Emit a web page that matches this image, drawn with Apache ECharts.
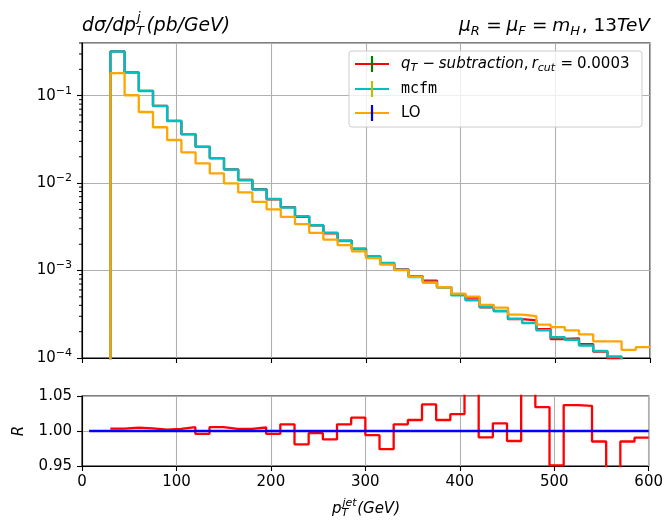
<!DOCTYPE html>
<html>
<head>
<meta charset="utf-8">
<script src="https://cdn.jsdelivr.net/npm/echarts@6/dist/echarts.min.js"></script>
<style>
  html, body { margin: 0; padding: 0; background: #fff; }
  #chart { width: 666px; height: 523px; }
</style>
</head>
<body>
<div id="chart"></div>
<script>
// Jet transverse-momentum spectrum, 15 GeV bins
const binEdges = [30, 45, 60, 75, 90, 105, 120, 135, 150, 165, 180, 195, 210, 225, 240, 255, 270, 285, 300,
  315, 330, 345, 360, 375, 390, 405, 420, 435, 450, 465, 480, 495, 510, 525, 540, 555, 570, 585, 600];

// dσ/dpT (pb/GeV), MCFM reference
const mcfm = [0.319, 0.1835, 0.1132, 0.0762, 0.0513, 0.0361, 0.0261, 0.0192, 0.01435, 0.01082, 0.00847,
  0.00656, 0.00527, 0.00419, 0.0033, 0.0027, 0.00218, 0.00175, 0.00146, 0.00122, 0.00102, 0.000845,
  0.00074, 0.000638, 0.000521, 0.000457, 0.000383, 0.000342, 0.000282, 0.000251, 0.000207, 0.000173,
  0.000162, 0.000139, 0.00012, 0.000104, 0.000092, 0.000085];

// dσ/dpT (pb/GeV), qT-subtraction with r_cut = 0.0003
const qtSub = [0.320, 0.1844, 0.1136, 0.07635, 0.05145, 0.0363, 0.0260, 0.01931, 0.01439, 0.01085, 0.00851,
  0.00653, 0.00532, 0.00411, 0.00329, 0.00267, 0.00220, 0.00178, 0.00145, 0.00119, 0.00103, 0.000858,
  0.000768, 0.000648, 0.000534, 0.000489, 0.000380, 0.000346, 0.000278, 0.000269, 0.000214, 0.000165,
  0.000168, 0.000144, 0.000118, 0.0000967, 0.0000906, 0.0000842];

// dσ/dpT (pb/GeV), leading order
const lo = [0.1806, 0.101, 0.065, 0.0435, 0.0311, 0.0225, 0.01682, 0.0129, 0.00993, 0.00782, 0.00611,
  0.0050, 0.00411, 0.00339, 0.0027, 0.00226, 0.00195, 0.00166, 0.00139, 0.00117, 0.00101, 0.000845,
  0.000724, 0.000644, 0.000546, 0.000504, 0.000406, 0.000377, 0.000313, 0.000301, 0.000241, 0.000226,
  0.000207, 0.000186, 0.000155, 0.000155, 0.000124, 0.000133];

// ratio R = qT-subtraction / MCFM
const ratio = [1.0033, 1.0048, 1.0038, 1.0019, 1.003, 1.0055, 0.996, 1.0055, 1.003, 1.003, 1.005, 0.996,
  1.0095, 0.981, 0.997, 0.988, 1.0095, 1.019, 0.994, 0.974, 1.0095, 1.0157, 1.038, 1.0157, 1.024, 1.07,
  0.991, 1.011, 0.9857, 1.07, 1.034, 0.951, 1.037, 1.036, 0.985, 0.93, 0.985, 0.9905];

// unity reference line in the ratio panel
const unityX = [7.5, 600];
const unityY = [1, 1];

// log-axis minor tick positions
const minorTicks = [];
[1e-4, 1e-3, 1e-2, 1e-1].forEach(d => { for (let k = 2; k <= 9; k++) { if (k * d <= 0.4 + 1e-9) minorTicks.push(k * d); } });

const FONT = 'DejaVu Sans';
const FS = 15;
const chart = echarts.init(document.getElementById('chart'), null, { renderer: 'canvas' });

// histogram outline; optionally rises from the floor at the first edge
function stepHist(vals, fromFloor) {
  const d = [];
  if (fromFloor) d.push([binEdges[0], 1e-7]);
  vals.forEach((v, i) => d.push([binEdges[i], v]));
  d.push([binEdges[vals.length], vals[vals.length - 1]]);
  return d;
}

function expLabel(v) {
  const e = Math.round(Math.log10(v));
  return '{b|10}{s|' + String(e).replace('-', '−') + '}';
}

// --- small mathtext-like layout for titles and labels ---
const mctx = document.createElement('canvas').getContext('2d');
function tw(text, font) { mctx.font = font; return mctx.measureText(text).width; }
function fontStr(size, it, mono) { return (it ? 'italic ' : '') + size + 'px ' + (mono ? '"DejaVu Sans Mono"' : '"DejaVu Sans"'); }
function mathRow(parts, x, cy, size, align) {
  const small = Math.round(size * 0.7);
  const items = [];
  let cx = 0;
  parts.forEach(p => {
    if (p.t !== undefined) {
      const f = fontStr(size, p.it, p.mono);
      items.push({ text: p.t, font: f, x: cx, y: cy });
      cx += tw(p.t, f);
    } else if (p.gap !== undefined) {
      cx += p.gap * size;
    } else {
      const f = fontStr(small, true, false);
      let wmax = 0;
      if (p.sup) { items.push({ text: p.sup, font: f, x: cx + 1, y: cy - size * 0.42 }); wmax = Math.max(wmax, tw(p.sup, f)); }
      if (p.sub) { items.push({ text: p.sub, font: f, x: cx, y: cy + size * 0.3 }); wmax = Math.max(wmax, tw(p.sub, f)); }
      cx += wmax + 1.5;
    }
  });
  const x0 = align === 'right' ? x - cx : (align === 'center' ? x - cx / 2 : x);
  return items.map(it => ({
    type: 'text', x: x0 + it.x, y: it.y, z: 100,
    style: { text: it.text, font: it.font, fill: '#000', verticalAlign: 'middle', align: 'left' }
  }));
}
const EQ = [{ gap: 0.26 }, { t: '=' }, { gap: 0.26 }];

const graphics = [];
// titles
graphics.push(...mathRow([{ t: 'dσ/dp', it: true }, { sup: 'j', sub: 'T' }, { gap: 0.05 }, { t: '(pb/GeV)', it: true }], 82, 26, 18.8, 'left'));
graphics.push(...mathRow([{ t: 'μ', it: true }, { sub: 'R' }, ...EQ, { t: 'μ', it: true }, { sub: 'F' }, ...EQ,
  { t: 'm', it: true }, { sub: 'H' }, { t: ', 13' }, { t: 'TeV', it: true }], 650, 26, 18.5, 'right'));
// axis titles
graphics.push(...mathRow([{ t: 'p', it: true }, { sup: 'jet', sub: 'T' }, { t: '(GeV)', it: true }], 366, 509, FS, 'center'));
graphics.push({ type: 'text', x: 19, y: 431, rotation: Math.PI / 2, z: 100,
  style: { text: 'R', font: fontStr(FS, true), fill: '#000', align: 'center', verticalAlign: 'middle' } });

// legend
const lg = { x: 349, y: 51, w: 293, h: 76 };
graphics.push({ type: 'rect', z: 90, shape: { x: lg.x, y: lg.y, width: lg.w, height: lg.h, r: 3 },
  style: { fill: 'rgba(255,255,255,0.8)', stroke: '#cccccc', lineWidth: 1 } });
const legendRows = [
  { y: 64, line: '#ff0000', bar: '#008000', label: [{ t: 'q', it: true }, { sub: 'T' }, { gap: 0.25 }, { t: '−' }, { gap: 0.25 },
    { t: 'subtraction', it: true }, { t: ',' }, { gap: 0.2 }, { t: 'r', it: true }, { sub: 'cut' }, ...EQ, { t: '0.0003' }] },
  { y: 89, line: '#00bfbf', bar: '#bfbf00', label: [{ t: 'mcfm', mono: true }] },
  { y: 113, line: '#ffa500', bar: '#0000ff', label: [{ t: 'LO' }] }
];
legendRows.forEach(r => {
  graphics.push({ type: 'line', z: 95, shape: { x1: 355, y1: r.y, x2: 389, y2: r.y }, style: { stroke: r.line, lineWidth: 2.2 } });
  graphics.push({ type: 'line', z: 96, shape: { x1: 372, y1: r.y - 8, x2: 372, y2: r.y + 8 }, style: { stroke: r.bar, lineWidth: 2.2 } });
  graphics.push(...mathRow(r.label, 401, r.y, FS, 'left'));
});

const gridColor = '#b0b0b0';
const axisLineStyle = { color: '#000', width: 1.1 };
const labelStyle = { color: '#000', fontFamily: FONT, fontSize: FS };
const LW = 2.3;

const option = {
  animation: false,
  backgroundColor: '#fff',
  grid: [
    { left: 82, right: 16, top: 43, height: 315, show: true, borderColor: '#000', borderWidth: 1.1, backgroundColor: 'transparent' },
    { left: 82, right: 16, top: 396, height: 70, show: true, borderColor: '#000', borderWidth: 1.1, backgroundColor: 'transparent' }
  ],
  xAxis: [
    { type: 'value', gridIndex: 0, min: 0, max: 600, interval: 100,
      axisLine: { lineStyle: axisLineStyle }, axisTick: { length: 5, lineStyle: axisLineStyle },
      axisLabel: { show: false }, splitLine: { show: true, lineStyle: { color: gridColor, width: 1.1 } } },
    { type: 'value', gridIndex: 1, min: 0, max: 600, interval: 100,
      axisLine: { lineStyle: axisLineStyle }, axisTick: { length: 5, lineStyle: axisLineStyle },
      axisLabel: Object.assign({ margin: 9 }, labelStyle), splitLine: { show: true, lineStyle: { color: gridColor, width: 1.1 } } }
  ],
  yAxis: [
    { type: 'log', logBase: 10, gridIndex: 0, min: 1e-4, max: 0.4,
      axisLine: { show: true, lineStyle: axisLineStyle }, axisTick: { show: true, length: 5, lineStyle: axisLineStyle },
      splitLine: { show: true, lineStyle: { color: gridColor, width: 1.1 } },
      axisLabel: { margin: 10, showMaxLabel: false, formatter: expLabel,
        rich: { b: { fontFamily: FONT, fontSize: FS, color: '#000' },
                s: { fontFamily: FONT, fontSize: 11, color: '#000', padding: [0, 0, 10, 0] } } } },
    { type: 'value', gridIndex: 1, min: 0.95, max: 1.05, interval: 0.05,
      axisLine: { show: true, lineStyle: axisLineStyle }, axisTick: { show: true, length: 5, lineStyle: axisLineStyle },
      splitLine: { show: true, lineStyle: { color: gridColor, width: 1.1 } },
      axisLabel: Object.assign({ margin: 10, formatter: v => v.toFixed(2) }, labelStyle) }
  ],
  series: [
    { name: 'qT', type: 'line', xAxisIndex: 0, yAxisIndex: 0, step: 'end', showSymbol: false, clip: true, z: 3,
      data: stepHist(qtSub, true), lineStyle: { color: '#ff0000', width: LW } },
    { name: 'mcfm', type: 'line', xAxisIndex: 0, yAxisIndex: 0, step: 'end', showSymbol: false, clip: true, z: 4,
      data: stepHist(mcfm, true), lineStyle: { color: '#00bfbf', width: 2.5 } },
    { name: 'LO', type: 'line', xAxisIndex: 0, yAxisIndex: 0, step: 'end', showSymbol: false, clip: true, z: 5,
      data: stepHist(lo, true), lineStyle: { color: '#ffa500', width: LW } },
    { type: 'custom', xAxisIndex: 0, yAxisIndex: 0, clip: false, silent: true, z: 6,
      data: minorTicks.map(v => [0, v]),
      renderItem: (params, api) => {
        const p = api.coord([0, api.value(1)]);
        return { type: 'line', shape: { x1: p[0] - 3, y1: p[1], x2: p[0], y2: p[1] }, style: { stroke: '#000', lineWidth: 1 } };
      } },
    { name: 'R', type: 'line', xAxisIndex: 1, yAxisIndex: 1, step: 'end', showSymbol: false, clip: true, z: 3,
      data: stepHist(ratio, false), lineStyle: { color: '#ff0000', width: LW } },
    { name: 'unity', type: 'line', xAxisIndex: 1, yAxisIndex: 1, showSymbol: false, clip: true, z: 4,
      data: unityX.map((x, i) => [x, unityY[i]]), lineStyle: { color: '#0000ff', width: LW } }
  ],
  graphic: graphics
};
chart.setOption(option);
</script>
</body>
</html>
